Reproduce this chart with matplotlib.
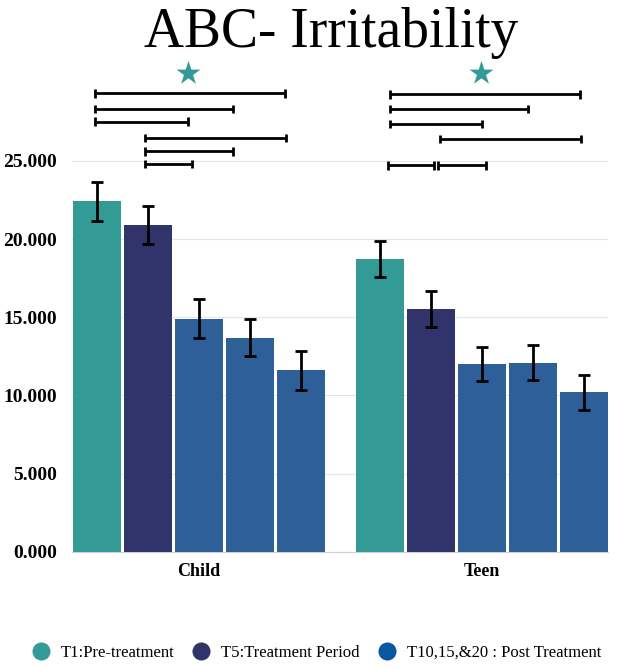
import matplotlib.pyplot as plt
import numpy as np
from matplotlib.lines import Line2D

# ---- data ----
GROUPS = ["Child", "Teen"]
PERIODS = ["T1", "T5", "T10", "T15", "T20"]
CHILD_MEAN = [22.4, 20.9, 14.9, 13.7, 11.6]
CHILD_ERR = [1.25, 1.2, 1.25, 1.2, 1.25]
TEEN_MEAN = [18.7, 15.55, 12.0, 12.1, 10.2]
TEEN_ERR = [1.15, 1.15, 1.1, 1.1, 1.1]

# significance brackets: (start x, end x, level) in bar-slot units
CHILD_BR_START = [-0.03, -0.03, -0.03, 0.94, 0.94, 0.94]
CHILD_BR_END = [3.69, 2.67, 1.78, 3.71, 2.67, 1.86]
CHILD_BR_LEVEL = [29.3, 28.3, 27.5, 26.45, 25.6, 24.8]
TEEN_BR_START = [5.75, 5.75, 5.75, 6.73, 5.70, 6.69]
TEEN_BR_END = [9.46, 8.45, 7.54, 9.49, 6.61, 7.62]
TEEN_BR_LEVEL = [29.25, 28.3, 27.35, 26.4, 24.7, 24.7]
STAR_X = [1.78, 7.53]
STAR_Y = 30.6

LEGEND_LABELS = ["T1:Pre-treatment", "T5:Treatment Period",
                 "T10,15,&20 : Post Treatment"]

TEAL = "#349A96"
NAVY = "#31346B"
BLUE = "#2F5F98"
LEG_BLUE = "#0B56A0"
BAR_COLORS = [TEAL, NAVY, BLUE, BLUE, BLUE]

SERIF = ["Liberation Serif", "DejaVu Serif"]
plt.rcParams["font.family"] = SERIF

fig = plt.figure(figsize=(6.2, 6.69), dpi=100)
ax = fig.add_axes([0.116, 0.175, 0.865, 0.725])

GROUP_OFFSET = 5.54
bw = 0.94
for g, (means, errs) in enumerate([(CHILD_MEAN, CHILD_ERR), (TEEN_MEAN, TEEN_ERR)]):
    x = np.arange(len(PERIODS)) + g * GROUP_OFFSET
    ax.bar(x, means, bw, color=BAR_COLORS, linewidth=0, zorder=3)
    ax.errorbar(x, means, yerr=errs, fmt="none", ecolor="black",
                elinewidth=2.0, capsize=4, capthick=2.0, zorder=4)

CAP = 0.27
for starts, ends, levels in ((CHILD_BR_START, CHILD_BR_END, CHILD_BR_LEVEL),
                             (TEEN_BR_START, TEEN_BR_END, TEEN_BR_LEVEL)):
    for s, e, lv in zip(starts, ends, levels):
        ax.plot([s, e], [lv, lv], color="black", lw=2.0, clip_on=False,
                solid_capstyle="butt", zorder=5)
        for xe in (s, e):
            ax.plot([xe, xe], [lv - CAP, lv + CAP], color="black", lw=2.0,
                    clip_on=False, solid_capstyle="butt", zorder=5)

ax.scatter(STAR_X, [STAR_Y] * len(STAR_X), marker="*", s=330, color=TEAL,
           linewidth=0, clip_on=False, zorder=5)

ax.set_xlim(-0.49, 10.02)
ax.set_ylim(0, 31)
ax.set_yticks([0, 5, 10, 15, 20, 25])
ax.set_yticklabels([f"{v:.3f}" for v in [0, 5, 10, 15, 20, 25]],
                   fontsize=14, fontweight="bold")
ax.set_xticks([2, 2 + GROUP_OFFSET])
ax.set_xticklabels(GROUPS, fontsize=13, fontweight="bold")
ax.tick_params(axis="both", length=0)
ax.tick_params(axis="x", pad=8)
ax.tick_params(axis="y", pad=11)
ax.grid(axis="y", color="#E6E6E6", lw=0.8, zorder=0)
for sp in ("top", "right", "left"):
    ax.spines[sp].set_visible(False)
ax.spines["bottom"].set_color("#D0D0D0")
ax.spines["bottom"].set_linewidth(0.8)

fig.text(0.534, 0.929, "ABC- Irritability", ha="center", va="baseline",
         fontsize=40)

handles = [Line2D([], [], marker="o", ls="none", markersize=13,
                  markerfacecolor=c, markeredgewidth=0)
           for c in (TEAL, NAVY, LEG_BLUE)]
fig.legend(handles, LEGEND_LABELS, loc="center", bbox_to_anchor=(0.511, 0.024),
           ncol=3, frameon=False, fontsize=12, handlelength=1.0,
           handletextpad=0.7, columnspacing=1.1, borderpad=0)

fig.savefig("out.png", dpi=100)
